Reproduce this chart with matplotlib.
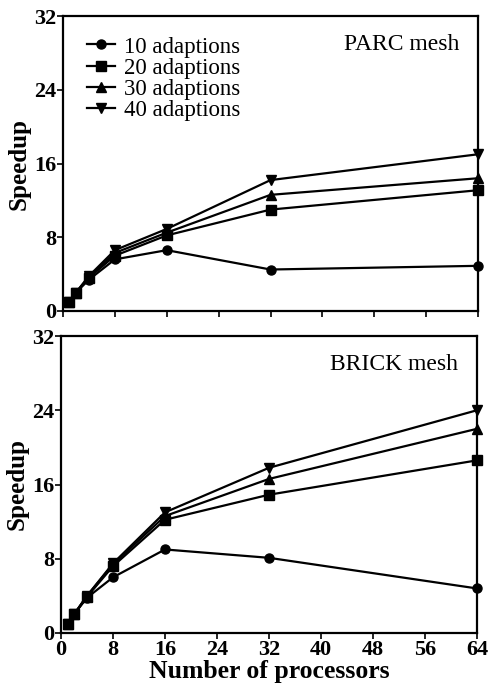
import matplotlib
matplotlib.use('Agg')
import matplotlib.pyplot as plt

plt.rcParams['font.family'] = ['Liberation Serif', 'DejaVu Serif']

# Data
procs = [1, 2, 4, 8, 16, 32, 64]
labels = ['10 adaptions', '20 adaptions', '30 adaptions', '40 adaptions']
markers = ['o', 's', '^', 'v']

parc_10 = [1, 2, 3.4, 5.6, 6.6, 4.5, 4.9]
parc_20 = [1, 2, 3.6, 6.0, 8.2, 11.0, 13.1]
parc_30 = [1, 2, 3.7, 6.3, 8.5, 12.6, 14.4]
parc_40 = [1, 2, 3.8, 6.6, 8.9, 14.2, 17.0]

brick_10 = [1, 2, 3.8, 6.0, 9.0, 8.1, 4.8]
brick_20 = [1, 2, 3.9, 7.2, 12.2, 14.9, 18.6]
brick_30 = [1, 2, 4.0, 7.4, 12.6, 16.6, 22.0]
brick_40 = [1, 2, 4.0, 7.5, 13.0, 17.8, 24.0]

xticks = [0, 8, 16, 24, 32, 40, 48, 56, 64]
yticks = [0, 8, 16, 24, 32]

fig = plt.figure(figsize=(4.88, 6.91), dpi=100)
ax1 = fig.add_axes([63/488, 1-311/691, 415/488, 295/691])
ax2 = fig.add_axes([61/488, 1-633/691, 416/488, 297/691])


def setup(ax, title, show_x):
    ax.set_xlim(0, 64)
    ax.set_ylim(0, 32)
    ax.set_xticks(xticks)
    ax.set_yticks(yticks)
    ax.tick_params(direction='out', length=4, width=1.2,
                   labelsize=16, pad=1)
    for lab in ax.get_yticklabels() + ax.get_xticklabels():
        lab.set_fontweight('bold')
    if not show_x:
        ax.set_xticklabels([])
    for sp in ax.spines.values():
        sp.set_linewidth(1.6)
    ax.set_ylabel('Speedup', fontsize=18, fontweight='bold', labelpad=2)
    ax.text(0.955, 0.905, title, transform=ax.transAxes, ha='right',
            va='center', fontsize=17)


for ax, series in ((ax1, [parc_10, parc_20, parc_30, parc_40]),
                   (ax2, [brick_10, brick_20, brick_30, brick_40])):
    for ys, m, lab in zip(series, markers, labels):
        ax.plot(procs, ys, color='black', lw=1.6, marker=m, ms=6.5,
                label=lab, clip_on=False, zorder=3)

setup(ax1, 'PARC mesh', False)
setup(ax2, 'BRICK mesh', True)
ax2.set_xlabel('Number of processors', fontsize=18.5, fontweight='bold',
               labelpad=0)

ax1.legend(loc='upper left', bbox_to_anchor=(0.02, 0.985), frameon=False,
           fontsize=16.5, handlelength=1.2, handletextpad=0.4,
           labelspacing=0.0, borderpad=0.2)

fig.savefig('out.png', dpi=100)
